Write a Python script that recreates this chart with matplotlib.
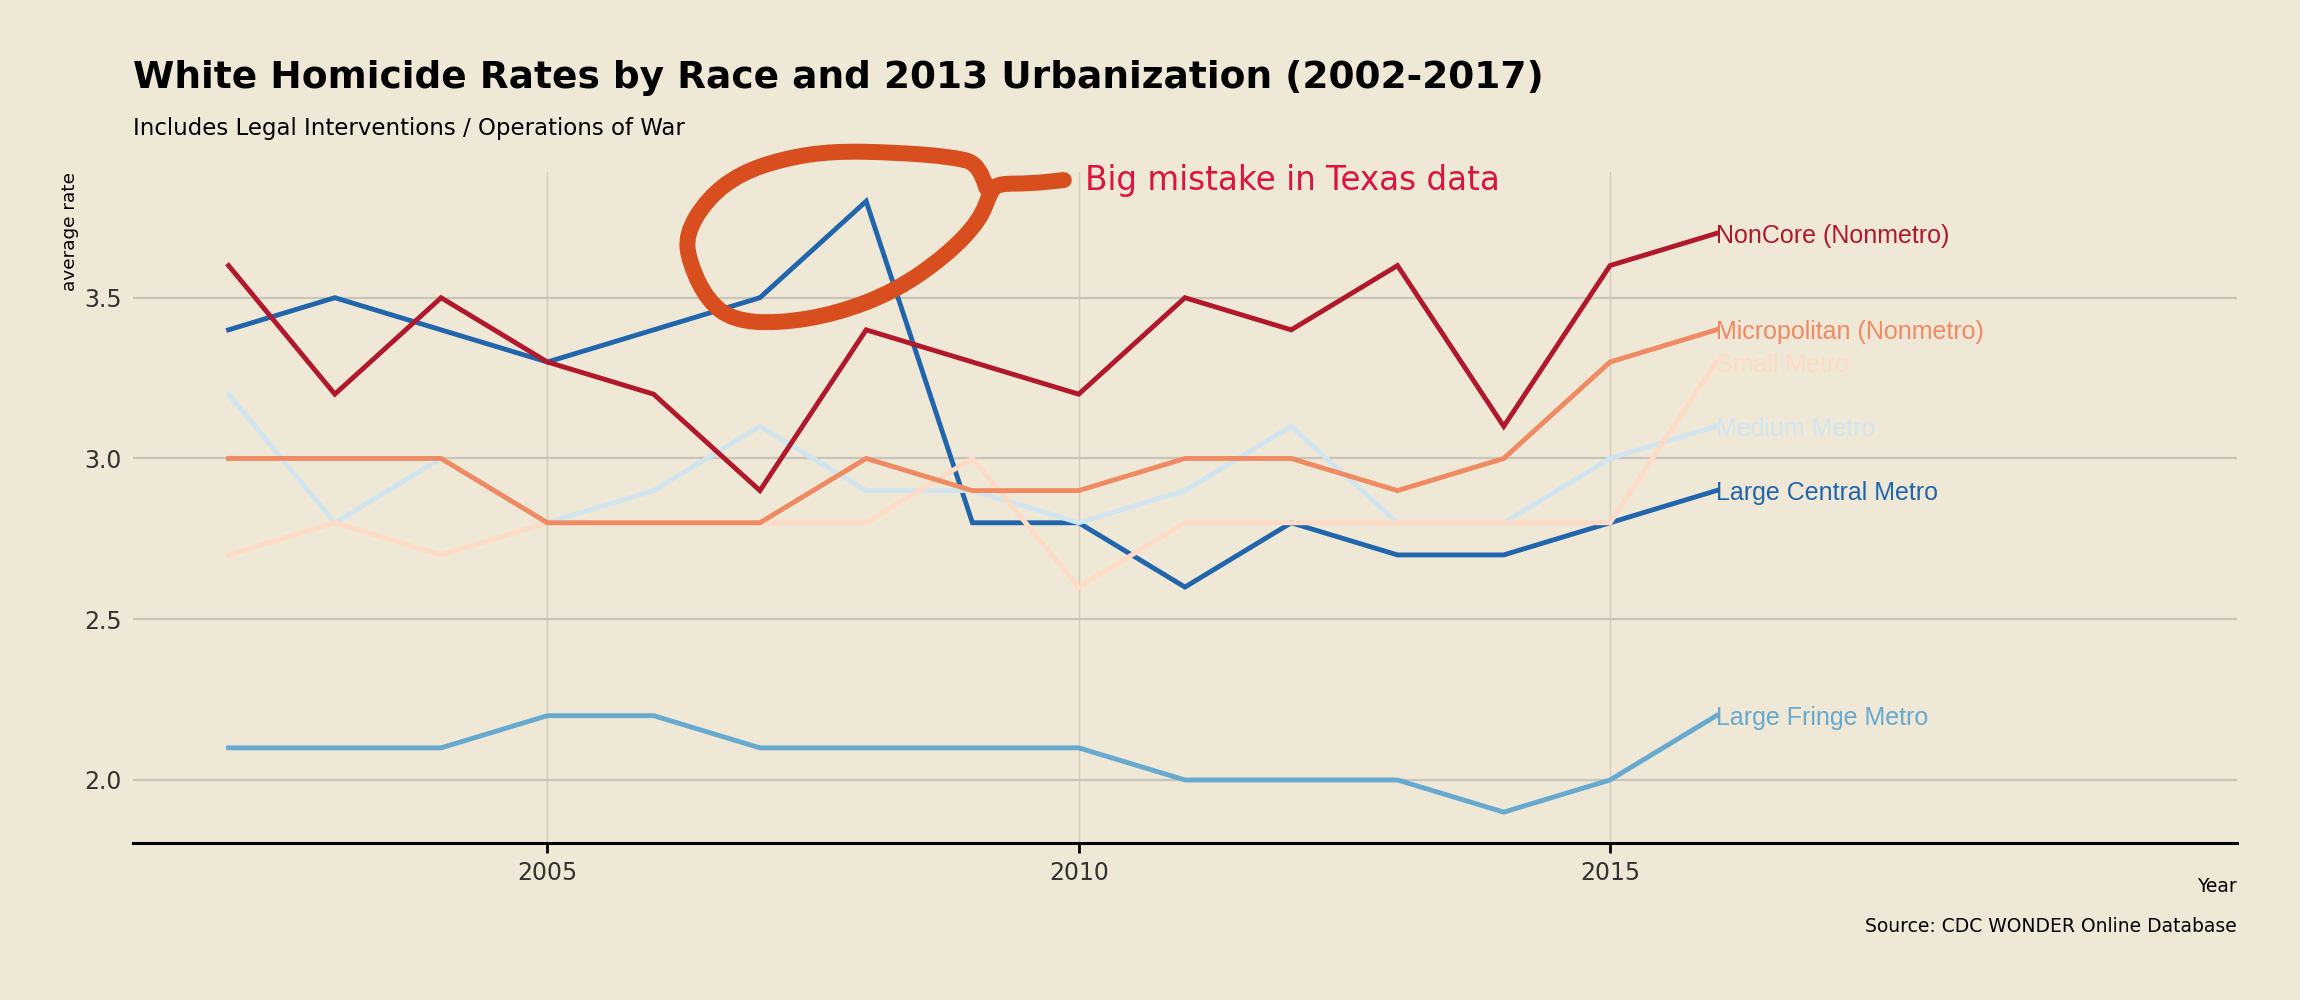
import numpy as np
import matplotlib
matplotlib.use("Agg")
import matplotlib.pyplot as plt
from matplotlib.path import Path
from matplotlib.patches import PathPatch

# ---------------- data ----------------
years = [2002, 2003, 2004, 2005, 2006, 2007, 2008, 2009, 2010, 2011, 2012, 2013, 2014, 2015, 2016]

noncore       = [3.6, 3.2, 3.5, 3.3, 3.2, 2.9, 3.4, 3.3, 3.2, 3.5, 3.4, 3.6, 3.1, 3.6, 3.7]
micropolitan  = [3.0, 3.0, 3.0, 2.8, 2.8, 2.8, 3.0, 2.9, 2.9, 3.0, 3.0, 2.9, 3.0, 3.3, 3.4]
small_metro   = [2.7, 2.8, 2.7, 2.8, 2.8, 2.8, 2.8, 3.0, 2.6, 2.8, 2.8, 2.8, 2.8, 2.8, 3.3]
medium_metro  = [3.2, 2.8, 3.0, 2.8, 2.9, 3.1, 2.9, 2.9, 2.8, 2.9, 3.1, 2.8, 2.8, 3.0, 3.1]
large_central = [3.4, 3.5, 3.4, 3.3, 3.4, 3.5, 3.8, 2.8, 2.8, 2.6, 2.8, 2.7, 2.7, 2.8, 2.9]
large_fringe  = [2.1, 2.1, 2.1, 2.2, 2.2, 2.1, 2.1, 2.1, 2.1, 2.0, 2.0, 2.0, 1.9, 2.0, 2.2]

series_names = ["Large Central Metro", "Large Fringe Metro", "Medium Metro",
                "Small Metro", "Micropolitan (Nonmetro)", "NonCore (Nonmetro)"]
series_values = [large_central, large_fringe, medium_metro, small_metro, micropolitan, noncore]
series_colors = ["#2166ac", "#67a9cf", "#d1e5f0", "#fddbc7", "#ef8a62", "#b2182b"]

x_ticks = [2005, 2010, 2015]
y_ticks = [2.0, 2.5, 3.0, 3.5]

title = "White Homicide Rates by Race and 2013 Urbanization (2002-2017)"
subtitle = "Includes Legal Interventions / Operations of War"
note_text = "Big mistake in Texas data"
source_text = "Source: CDC WONDER Online Database"

# hand-drawn loop around the suspicious 2008 point (year, rate)
loop_pts = [(2009.13, 3.842), (2009.07, 3.915), (2008.82, 3.938), (2008.27, 3.952),
            (2007.69, 3.956), (2007.24, 3.934), (2006.82, 3.888), (2006.51, 3.81),
            (2006.30, 3.697), (2006.34, 3.605), (2006.51, 3.49), (2006.75, 3.43),
            (2007.17, 3.42), (2007.72, 3.45), (2008.27, 3.52), (2008.75, 3.63),
            (2009.07, 3.74), (2009.17, 3.83), (2009.24, 3.855), (2009.55, 3.855),
            (2009.86, 3.866)]

# ---------------- style ----------------
BG = "#efe8d6"
plt.rcParams["font.family"] = ["DejaVu Sans"]

fig = plt.figure(figsize=(23, 10), dpi=100, facecolor=BG)
ax = fig.add_axes([0.0578, 0.157, 0.9148, 0.671], facecolor=BG)

for name, vals, col in zip(series_names, series_values, series_colors):
    ax.plot(years, vals, color=col, lw=3.5, solid_joinstyle="miter", zorder=3)
    ax.text(years[-1], vals[-1], name, color=col, fontsize=18,
            family=["Liberation Sans", "DejaVu Sans"],
            ha="left", va="center_baseline", zorder=4)

ax.set_xlim(2001.1, 2020.9)
ax.set_ylim(1.804, 3.891)
ax.set_xticks(x_ticks)
ax.set_yticks(y_ticks)
ax.tick_params(axis="x", labelsize=17, colors="#333333", length=7, width=2,
               direction="out", pad=6)
ax.tick_params(axis="x", color="black")
ax.tick_params(axis="y", labelsize=17, colors="#333333", length=0, pad=8)

ax.grid(axis="y", color="#c8c4bb", lw=1.6, zorder=0)
ax.grid(axis="x", color="#d2cdc2", lw=1.0, zorder=0)
for s in ["top", "right", "left"]:
    ax.spines[s].set_visible(False)
ax.spines["bottom"].set_color("black")
ax.spines["bottom"].set_linewidth(2.2)

ax.set_ylabel("average rate", fontsize=13.3, loc="top", labelpad=4)

# annotation loop (smoothed via quadratic bezier through midpoints)
pts = np.array(loop_pts)
verts = [pts[0]]
codes = [Path.MOVETO]
for i in range(1, len(pts) - 1):
    mid = (pts[i] + pts[i + 1]) / 2.0
    verts += [pts[i], mid]
    codes += [Path.CURVE3, Path.CURVE3]
verts.append(pts[-1])
codes.append(Path.LINETO)
patch = PathPatch(Path(verts, codes), facecolor="none", edgecolor="#d84e1f",
                  lw=11.5, capstyle="round", joinstyle="round", zorder=5, clip_on=False)
ax.add_patch(patch)

ax.text(2010.06, 3.865, note_text, color="#dc143c", fontsize=23.5,
        ha="left", va="center", zorder=5, clip_on=False)

# titles
fig.text(0.0578, 0.922, title, fontsize=27, fontweight="bold", ha="left", va="center")
fig.text(0.0578, 0.872, subtitle, fontsize=16.5, ha="left", va="center")

# x label & source
fig.text(0.9726, 0.113, "Year", fontsize=13.5, ha="right", va="center")
fig.text(0.9726, 0.073, source_text, fontsize=13.5, ha="right", va="center")

fig.savefig("out.png", dpi=100, facecolor=BG)
